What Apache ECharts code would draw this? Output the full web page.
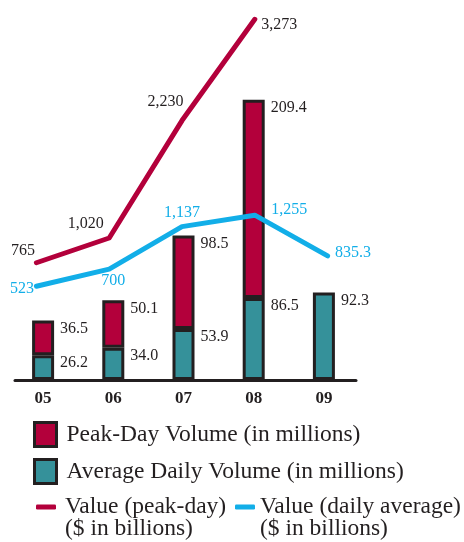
<!DOCTYPE html>
<html>
<head>
<meta charset="utf-8">
<script src="https://cdn.jsdelivr.net/npm/echarts@6/dist/echarts.min.js"></script>
<style>
  html, body { margin: 0; padding: 0; background: #fff; }
  #chart { width: 464px; height: 542px; }
</style>
</head>
<body>
<div id="chart"></div>
<script>
  var years = ['05', '06', '07', '08', '09'];
  var avgDailyVolume = [26.2, 34.0, 53.9, 86.5, 92.3];
  var peakDayVolume = [36.5, 50.1, 98.5, 209.4, null];
  var peakDayValue = [765, 1020, 2230, 3273, null];
  var dailyAvgValue = [523, 700, 1137, 1255, 835.3];

  var ink = '#231f20';
  var crimson = '#b3003b';
  var teal = '#35919a';
  var cyan = '#12aee8';
  var serif = 'Liberation Serif';

  // where each line label sits round its point
  var peakLabelPos = [
    {position: 'left', distance: 1, offset: [0, -12]},
    {position: 'left', distance: 5, offset: [0, -14]},
    {position: 'left', distance: 0, offset: [2, -19]},
    {position: 'right', distance: 6, offset: [0, 5]}
  ];
  var avgLabelPos = [
    {position: 'left', distance: 2, offset: [0, 3]},
    {position: 'bottom', distance: 3, offset: [4, 0]},
    {position: 'top', distance: 5, offset: [0, 0]},
    {position: 'right', distance: 16, offset: [0, -5]},
    {position: 'right', distance: 7, offset: [0, -3]}
  ];

  function lineData(values, pos) {
    var out = [];
    for (var i = 0; i < values.length; i++) {
      if (values[i] == null) { out.push('-'); continue; }
      out.push({value: values[i], label: pos[i]});
    }
    return out;
  }

  function fmtNum(p) {
    var v = p.value;
    if (v >= 1000) return Math.floor(v / 1000) + ',' + String(Math.round(v % 1000)).padStart(3, '0');
    return String(v);
  }

  var barLabel = {
    show: true,
    position: ['100%', 8],
    offset: [6, 0],
    align: 'left',
    verticalAlign: 'middle',
    fontFamily: serif,
    fontSize: 16,
    color: ink,
    formatter: function (p) { return p.value.toFixed(1); }
  };

  var barBorder = {borderColor: ink, borderWidth: 3, borderRadius: 0, borderJoin: 'miter'};
  var legendText = {fontFamily: serif, fontSize: 23.5, color: ink, lineHeight: 22};

  var chart = echarts.init(document.getElementById('chart'));
  chart.setOption({
    animation: false,
    backgroundColor: '#fff',
    grid: [
      {left: 8, right: 105, top: 20, bottom: 162},
      {left: 0, right: 100, top: 7, bottom: 205},
      // only carries the baseline, which is a little shorter than the bar band
      {left: 15, right: 108, top: 20, bottom: 162}
    ],
    xAxis: [
      {
        type: 'category', gridIndex: 0, data: years,
        axisLine: {show: false},
        axisTick: {show: false},
        axisLabel: {color: ink, fontFamily: serif, fontSize: 17, fontWeight: 'bold', margin: 10}
      },
      {type: 'category', gridIndex: 1, data: years, show: false},
      {
        type: 'category', gridIndex: 2, data: years,
        axisLine: {lineStyle: {color: ink, width: 3}},
        axisTick: {show: false},
        axisLabel: {show: false}
      }
    ],
    yAxis: [
      {type: 'value', gridIndex: 0, min: 0, max: 380, show: false},
      {type: 'value', gridIndex: 1, min: 0, max: 3400, show: false},
      {type: 'value', gridIndex: 2, min: 0, max: 380, show: false}
    ],
    legend: [
      {
        orient: 'vertical', left: 33, top: 421, padding: 0,
        itemWidth: 22, itemHeight: 24, itemGap: 10, icon: 'rect',
        data: ['Peak-Day Volume (in millions)', 'Average Daily Volume (in millions)'],
        itemStyle: {borderColor: ink, borderWidth: 3, borderJoin: 'miter'},
        textStyle: Object.assign({padding: [0, 0, 0, 5]}, legendText, {lineHeight: 24})
      },
      {
        left: 36, top: 473, padding: 0,
        itemWidth: 20, itemHeight: 5, icon: 'roundRect',
        data: ['Value (peak-day)\n($ in billions)'],
        formatter: function (name) { return '\n' + name; },
        textStyle: Object.assign({padding: [0, 0, 0, 4]}, legendText)
      },
      {
        left: 235, top: 473, padding: 0,
        itemWidth: 20, itemHeight: 5, icon: 'roundRect',
        data: ['Value (daily average)\n($ in billions)'],
        formatter: function (name) { return '\n' + name; },
        textStyle: legendText
      }
    ],
    series: [
      {
        name: 'Average Daily Volume (in millions)',
        type: 'bar', stack: 'vol', xAxisIndex: 0, yAxisIndex: 0,
        barWidth: 22,
        data: avgDailyVolume,
        itemStyle: Object.assign({color: teal}, barBorder),
        label: barLabel
      },
      {
        name: 'Peak-Day Volume (in millions)',
        type: 'bar', stack: 'vol', xAxisIndex: 0, yAxisIndex: 0,
        barWidth: 22,
        data: peakDayVolume,
        itemStyle: Object.assign({color: crimson}, barBorder),
        label: barLabel
      },
      {
        name: 'Value (peak-day)\n($ in billions)',
        type: 'line', xAxisIndex: 1, yAxisIndex: 1,
        data: lineData(peakDayValue, peakLabelPos),
        symbol: 'circle', symbolSize: 1, showSymbol: true,
        itemStyle: {color: crimson},
        lineStyle: {color: crimson, width: 5, cap: 'round', join: 'round'},
        label: {show: true, fontFamily: serif, fontSize: 16, color: ink, formatter: fmtNum},
        z: 5
      },
      {
        name: 'Value (daily average)\n($ in billions)',
        type: 'line', xAxisIndex: 1, yAxisIndex: 1,
        data: lineData(dailyAvgValue, avgLabelPos),
        symbol: 'circle', symbolSize: 1, showSymbol: true,
        itemStyle: {color: cyan},
        lineStyle: {color: cyan, width: 5, cap: 'round', join: 'round'},
        label: {show: true, fontFamily: serif, fontSize: 16, color: cyan, formatter: fmtNum},
        z: 5
      }
    ]
  });
</script>
</body>
</html>
